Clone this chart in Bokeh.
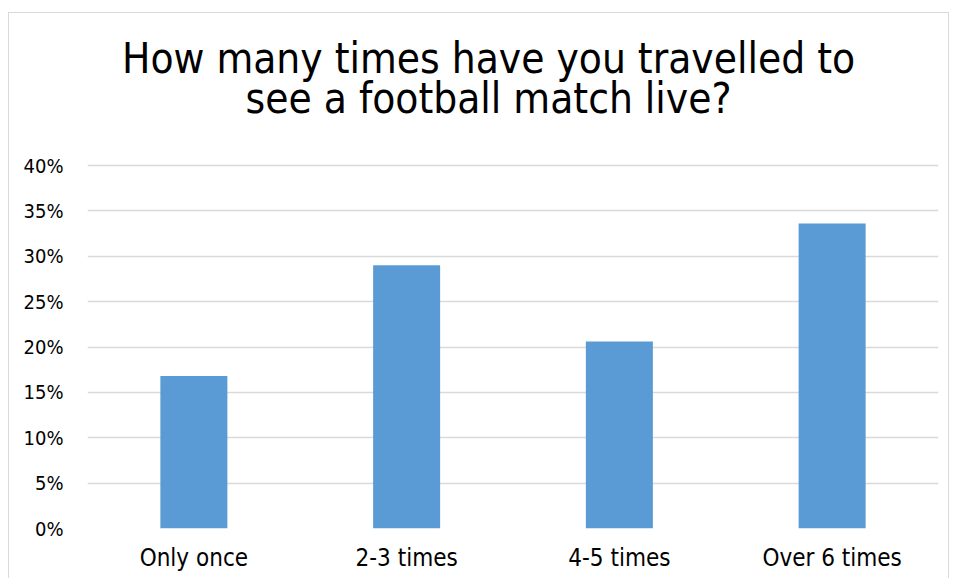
from bokeh.plotting import figure
from bokeh.models import FactorRange, Range1d, NumeralTickFormatter, FixedTicker, ColumnDataSource
from bokeh.core.properties import value
from bokeh.embed import file_html
from bokeh.resources import INLINE

categories = ["Only once", "2-3 times", "4-5 times", "Over 6 times"]
shares = [0.168, 0.290, 0.206, 0.336]
y_ticks = [0.0, 0.05, 0.10, 0.15, 0.20, 0.25, 0.30, 0.35, 0.40]
title_lines = ["How many times have you travelled to", "see a football match live?"]

FONT = "DejaVu Sans Condensed, DejaVu Sans"
BAR = "#5B9BD5"
GRID = "#d9d9d9"

src = ColumnDataSource(data=dict(cat=categories, val=shares))

# frame spans from the top of the chart box down to the 0% line;
# the value scale keeps 0..40% on the lower 363 px, title sits above it
y_end = 0.40 * 515.0 / 363.0

p = figure(
    x_range=FactorRange(*categories, range_padding=0),
    y_range=Range1d(0, y_end),
    width=941, height=575,
    output_backend="svg", toolbar_location=None,
    min_border_left=78, min_border_right=12, min_border_top=0, min_border_bottom=60,
    margin=(12, 0, 0, 8),
    styles={"border": "1.5px solid #d9d9d9"},
    background_fill_color="white", border_fill_color="white",
)
p.outline_line_color = None

p.vbar(x="cat", top="val", width=0.315, source=src, fill_color=BAR, line_color=None)

p.xgrid.grid_line_color = None
p.ygrid.grid_line_color = GRID
p.ygrid.grid_line_width = 1.5

p.yaxis.ticker = FixedTicker(ticks=y_ticks)
p.yaxis.formatter = NumeralTickFormatter(format="0%")
for ax in (p.xaxis, p.yaxis):
    ax.axis_line_color = None
    ax.major_tick_line_color = None
    ax.minor_tick_line_color = None
    ax.major_label_text_font = FONT
    ax.major_label_text_color = "#000000"
p.yaxis.major_label_text_font_size = "20px"
p.yaxis.major_label_standoff = 18
p.xaxis.major_label_text_font_size = "24px"
p.xaxis.major_label_standoff = 9

title_src = ColumnDataSource(data=dict(x=[1.885, 1.885], y=[0.5180, 0.4740], t=title_lines))
p.text(x="x", y="y", text="t", source=title_src,
       text_align="center", text_baseline="alphabetic",
       text_font=value(FONT), text_font_size="42px", text_color="#000000")

open("out.html", "w").write(file_html(p, INLINE))
